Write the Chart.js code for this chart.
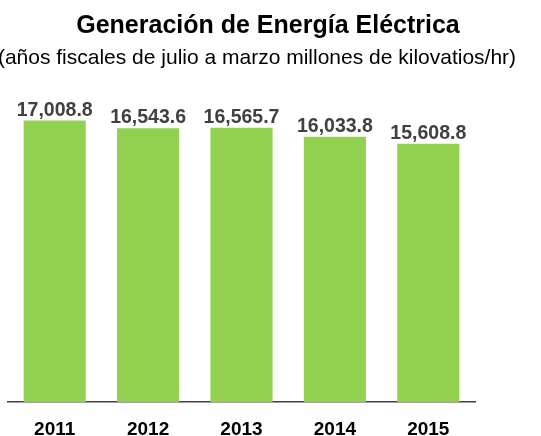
<!DOCTYPE html>
<html>
<head>
<meta charset="utf-8">
<script src="https://cdn.jsdelivr.net/npm/chart.js@4"></script>
<style>
  html, body { margin: 0; padding: 0; background: #fff; }
</style>
</head>
<body>
<canvas id="energyChart" width="541" height="436"></canvas>
<script>
const years = ["2011", "2012", "2013", "2014", "2015"];
const generation = [17008.8, 16543.6, 16565.7, 16033.8, 15608.8];
const titleText = "Generación de Energía Eléctrica";
const subtitleText = "(años fiscales de julio a marzo millones de kilovatios/hr)";

const FONT = "'Liberation Sans', Arial, sans-serif";

// title + subtitle drawn by hand so they sit where the original has them
const headerPlugin = {
  id: "header",
  afterDraw(chart) {
    const ctx = chart.ctx;
    ctx.save();
    ctx.fillStyle = "#000";
    ctx.textAlign = "center";
    ctx.textBaseline = "alphabetic";
    ctx.font = "bold 25px " + FONT;
    ctx.fillText(titleText, 268, 33);
    ctx.font = "21px " + FONT;
    ctx.fillText(subtitleText, 257, 64);
    ctx.restore();
  }
};

// value labels above bars
const valueLabels = {
  id: "valueLabels",
  afterDatasetsDraw(chart) {
    const ctx = chart.ctx;
    const meta = chart.getDatasetMeta(0);
    ctx.save();
    ctx.fillStyle = "#404040";
    ctx.font = "bold 19.5px " + FONT;
    ctx.textAlign = "center";
    ctx.textBaseline = "alphabetic";
    meta.data.forEach((bar, i) => {
      const txt = generation[i].toLocaleString("en-US", { minimumFractionDigits: 1, maximumFractionDigits: 1 });
      ctx.fillText(txt, bar.x, bar.y - 5);
    });
    ctx.restore();
  }
};

new Chart(document.getElementById("energyChart"), {
  type: "bar",
  data: {
    labels: years,
    datasets: [{
      data: generation,
      backgroundColor: "#92D050",
      borderWidth: 0,
      categoryPercentage: 1,
      barPercentage: 0.665
    }]
  },
  options: {
    responsive: false,
    animation: false,
    layout: {
      padding: { top: 71, left: 8, right: 66, bottom: -21 }
    },
    plugins: {
      legend: { display: false },
      tooltip: { enabled: false }
    },
    scales: {
      x: {
        grid: { display: false, drawTicks: false },
        border: { display: true, color: "#404040", width: 1.5 },
        ticks: {
          color: "#000",
          padding: 18,
          font: { family: FONT, size: 19, weight: "bold", lineHeight: 1 }
        }
      },
      y: {
        display: false,
        min: 0,
        max: 20000
      }
    }
  },
  plugins: [headerPlugin, valueLabels]
});
</script>
</body>
</html>
